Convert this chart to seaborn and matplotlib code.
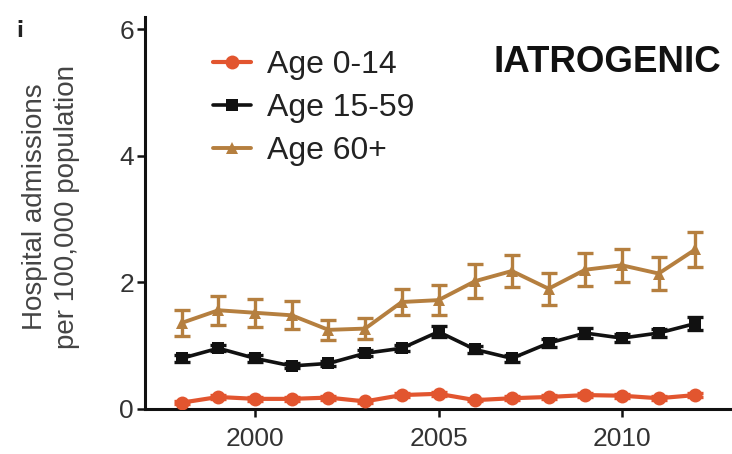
import matplotlib
matplotlib.use("Agg")
import matplotlib.pyplot as plt
import numpy as np
import pandas as pd
import seaborn as sns

# ---- data ----
years = [1998, 1999, 2000, 2001, 2002, 2003, 2004, 2005, 2006, 2007, 2008, 2009, 2010, 2011, 2012]
age_0_14 = [0.10, 0.19, 0.16, 0.16, 0.18, 0.12, 0.22, 0.24, 0.14, 0.17, 0.19, 0.22, 0.21, 0.17, 0.22]
age_0_14_err = [0.02, 0.03, 0.03, 0.03, 0.03, 0.02, 0.03, 0.03, 0.02, 0.03, 0.03, 0.03, 0.03, 0.03, 0.03]
age_15_59 = [0.80, 0.96, 0.80, 0.68, 0.72, 0.88, 0.96, 1.22, 0.94, 0.80, 1.04, 1.20, 1.12, 1.20, 1.35]
age_15_59_err = [0.05, 0.05, 0.05, 0.04, 0.04, 0.05, 0.05, 0.09, 0.05, 0.05, 0.06, 0.08, 0.06, 0.07, 0.10]
age_60 = [1.36, 1.56, 1.52, 1.48, 1.25, 1.27, 1.69, 1.72, 2.02, 2.18, 1.90, 2.20, 2.27, 2.14, 2.52]
age_60_err = [0.21, 0.23, 0.22, 0.22, 0.16, 0.16, 0.21, 0.24, 0.27, 0.26, 0.25, 0.26, 0.26, 0.26, 0.27]

series_names = ["Age 0-14", "Age 15-59", "Age 60+"]
x_ticks = [2000, 2005, 2010]
y_ticks = [0, 2, 4, 6]
title = "IATROGENIC"
y_label = "Hospital admissions\nper 100,000 population"

colors = ["#E2552F", "#111111", "#B57F3F"]
markers = ["o", "s", "^"]

sns.set_style("ticks")
plt.rcParams["font.family"] = ["Liberation Sans", "DejaVu Sans"]

W, H = 732, 454
fig = plt.figure(figsize=(W / 100, H / 100), dpi=100)
ax = fig.add_axes([145 / W, 1 - 409 / H, 1 - 145 / W, (409 - 16.5) / H])

df = pd.DataFrame({"year": years * 3,
                   "value": age_0_14 + age_15_59 + age_60,
                   "err": age_0_14_err + age_15_59_err + age_60_err,
                   "group": [n for n in series_names for _ in years]})

lws = [3.0, 2.6, 2.8]
mss = [10, 9.0, 8.5]
for i, name in enumerate(series_names):
    sub = df[df["group"] == name]
    ax.errorbar(sub["year"], sub["value"], yerr=sub["err"], fmt="none",
                ecolor=colors[i], elinewidth=2.4, capsize=6, capthick=2.4,
                zorder=2 + i)
    sns.lineplot(data=sub, x="year", y="value", color=colors[i],
                 marker=markers[i], markersize=mss[i], markeredgewidth=0,
                 linewidth=lws[i], label=name, ax=ax, zorder=3 + i,
                 errorbar=None)

ax.set_xlim(1997, 2013)
ax.set_ylim(0, 6.2)
ax.set_xticks(x_ticks)
ax.set_yticks(y_ticks)
ax.set_xlabel("")
ax.set_ylabel("")
sns.despine(ax=ax)
for s in ["left", "bottom"]:
    ax.spines[s].set_linewidth(2.2)
    ax.spines[s].set_color("#111111")
ax.tick_params(axis="both", direction="out", length=6, width=1.8,
               color="#111111", labelsize=19, labelcolor="#333333")
ax.tick_params(axis="x", pad=7)
ax.tick_params(axis="y", pad=2)

fig.text(51.5 / W, 1 - 207 / H, y_label, rotation=90, ha="center",
         va="center", fontsize=20, color="#444444", linespacing=1.3)

fig.text(493 / W, 1 - 63 / H, title, ha="left", va="center",
         fontsize=26.5, fontweight="bold", color="#111111")

fig.text(20 / W, 1 - 27 / H, "\u00a1", ha="center", va="center",
         fontsize=19, fontweight="bold", color="#222222")

handles, labels = ax.get_legend_handles_labels()
ax.legend(handles, labels, loc="upper left",
          bbox_to_anchor=(213 / W, 1 - 50 / H), bbox_transform=fig.transFigure,
          frameon=False, fontsize=23, labelspacing=0.41, handlelength=1.2,
          handletextpad=0.5, borderpad=0, borderaxespad=0,
          labelcolor="#222222")

fig.savefig("out.png", dpi=100)
